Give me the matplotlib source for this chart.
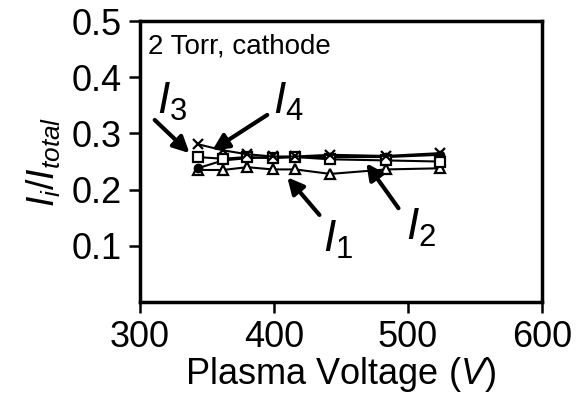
import matplotlib
matplotlib.use('Agg')
import matplotlib.pyplot as plt

# data
voltage = [343, 362, 380, 399, 416, 442, 484, 524]
i1 = [0.235, 0.235, 0.240, 0.236, 0.236, 0.228, 0.236, 0.238]
i2 = [0.238, 0.252, 0.256, 0.258, 0.258, 0.258, 0.258, 0.262]
i3 = [0.258, 0.255, 0.258, 0.256, 0.258, 0.254, 0.252, 0.250]
i4 = [0.281, 0.270, 0.263, 0.259, 0.259, 0.262, 0.260, 0.265]

plt.rcParams['font.family'] = ['Liberation Sans', 'DejaVu Sans']
plt.rcParams['mathtext.fontset'] = 'custom'
plt.rcParams['mathtext.rm'] = 'Liberation Sans'
plt.rcParams['mathtext.it'] = 'Liberation Sans:italic'

fig = plt.figure(figsize=(5.84, 3.99), dpi=100)
ax = fig.add_axes([0.2397, 0.2431, 0.688, 0.704])

lw = 1.5
ax.plot(voltage, i1, color='black', lw=lw, marker='^', mfc='white', mec='black', ms=7, mew=1.6)
ax.plot(voltage, i2, color='black', lw=lw, marker='o', mfc='black', mec='black', ms=6)
ax.plot(voltage, i3, color='black', lw=lw, marker='s', mfc='white', mec='black', ms=6.5, mew=1.6)
ax.plot(voltage, i4, color='black', lw=lw, marker='x', ms=7, mew=1.6)

ax.set_xlim(300, 600)
ax.set_ylim(0, 0.5)
ax.set_xticks([300, 400, 500, 600])
ax.set_yticks([0.1, 0.2, 0.3, 0.4, 0.5])
ax.set_yticklabels(['0.1', '0.2', '0.3', '0.4', '0.5'])
ax.tick_params(labelsize=26, direction='out', length=8, width=1.8, pad=5)
for s in ax.spines.values():
    s.set_linewidth(2.5)

ax.set_xlabel('Plasma Voltage ($V$)', fontsize=26, labelpad=0)
ax.set_ylabel('$I_i/I_{total}$', fontsize=27, labelpad=6)

ax.text(306, 0.455, '2 Torr, cathode', fontsize=20, va='center', ha='left')

arrow = dict(arrowstyle='-|>', lw=3, mutation_scale=24, color='black',
             shrinkA=0, shrinkB=0)
ax.annotate('', xy=(337, 0.265), xytext=(311, 0.324), arrowprops=arrow)
ax.annotate('', xy=(354, 0.270), xytext=(395, 0.333), arrowprops=arrow)
ax.annotate('', xy=(410, 0.222), xytext=(434, 0.155), arrowprops=arrow)
ax.annotate('', xy=(469, 0.247), xytext=(493, 0.167), arrowprops=arrow)

lab = dict(fontsize=32, ha='center', va='center')
ax.text(324, 0.356, '$I_3$', **lab)
ax.text(411, 0.356, '$I_4$', **lab)
ax.text(448, 0.110, '$I_1$', **lab)
ax.text(510, 0.132, '$I_2$', **lab)

plt.savefig('out.png', dpi=100)
